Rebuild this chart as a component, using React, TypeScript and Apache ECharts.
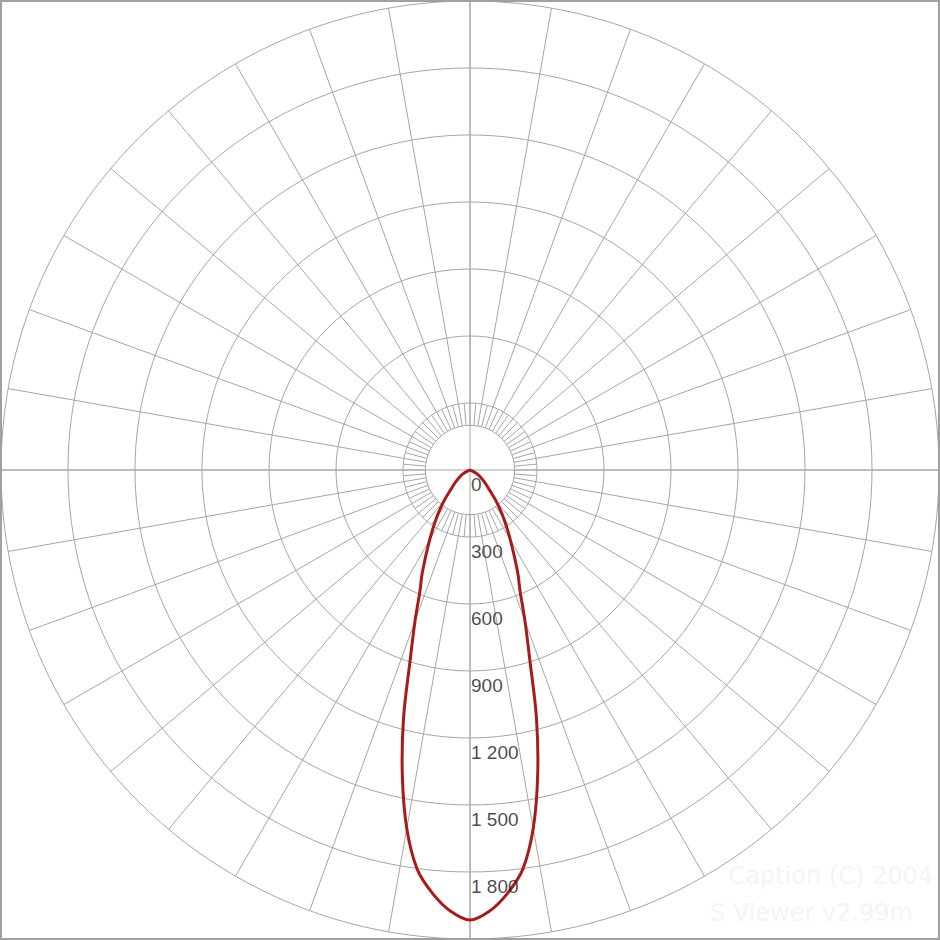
import React, { useEffect, useRef } from "react";
import * as echarts from "echarts";

// Angles from nadir (degrees), symmetric distribution
const angles = [0, 2.5, 5, 7.5, 10, 12.5, 15, 17.5, 20, 22.5, 25, 30, 35, 40, 45, 50, 55, 60, 65, 70, 75, 80, 90];
// Luminous intensity (cd)
const intensity = [2015, 1978, 1905, 1805, 1630, 1400, 1150, 890, 720, 585, 505, 362, 262, 182, 118, 85, 60, 40, 20, 6, 0, 0, 0];

const ringValues = [0, 300, 600, 900, 1200, 1500, 1800];
const ringLabels = ["0", "300", "600", "900", "1 200", "1 500", "1 800"];
const radiusMax = 2100;
const ringStep = 300;
const innerRingValue = 200;
const angleStep = 10;

const watermark = ["Caption (C) 2004", "S Viewer v2.99m"];

export default function App() {
  const ref = useRef<HTMLDivElement>(null);

  useEffect(() => {
    if (!ref.current) return;
    const chart = echarts.init(ref.current, null, { renderer: "svg" });
    const gridColor = "#a6a6a6";

    const curve: number[][] = [];
    for (let i = angles.length - 1; i >= 1; i--) {
      curve.push([intensity[i], 360 - angles[i]]);
    }
    for (let i = 0; i < angles.length; i++) {
      curve.push([intensity[i], angles[i]]);
    }

    chart.setOption({
      animation: false,
      backgroundColor: "#ffffff",
      polar: { center: [470, 470], radius: 469 },
      angleAxis: {
        type: "value",
        min: 0,
        max: 360,
        interval: angleStep,
        startAngle: 270,
        clockwise: true,
        axisLine: { show: false },
        axisTick: { show: false },
        axisLabel: { show: false },
        splitLine: { show: true, lineStyle: { color: gridColor, width: 1 } },
      },
      radiusAxis: {
        type: "value",
        min: 0,
        max: radiusMax,
        interval: ringStep,
        axisLine: { show: false },
        axisTick: { show: false },
        axisLabel: { show: false },
        splitLine: { show: true, lineStyle: { color: gridColor, width: 1 } },
      },
      graphic: [
        {
          type: "rect",
          shape: { x: 1, y: 1, width: 938, height: 938 },
          style: { fill: "none", stroke: "#a0a0a0", lineWidth: 2 },
          z: 100,
          silent: true,
        },
        {
          type: "text",
          right: 7,
          top: 864,
          style: {
            text: watermark[0],
            fill: "#f4f4f4",
            font: "24px 'DejaVu Sans', Verdana, sans-serif",
          },
          z: -1,
          silent: true,
        },
        {
          type: "text",
          right: 27,
          top: 901,
          style: {
            text: watermark[1],
            fill: "#f4f4f4",
            font: "24px 'DejaVu Sans', Verdana, sans-serif",
          },
          z: -1,
          silent: true,
        },
      ],
      series: [
        {
          type: "custom",
          coordinateSystem: "polar",
          silent: true,
          z: 2,
          data: [[0, 0]],
          renderItem: (params: any, api: any) => {
            const c = api.coord([0, 0]);
            const pIn = api.coord([innerRingValue, 0]);
            const rIn = Math.hypot(pIn[0] - c[0], pIn[1] - c[1]);
            const children: any[] = [];
            children.push({
              type: "circle",
              shape: { cx: c[0], cy: c[1], r: rIn },
              style: { fill: "#ffffff", stroke: gridColor, lineWidth: 1 },
            });
            for (let a = angleStep / 2; a < 360; a += angleStep) {
              const p1 = api.coord([innerRingValue, a]);
              const p2 = api.coord([ringStep, a]);
              children.push({
                type: "line",
                shape: { x1: p1[0], y1: p1[1], x2: p2[0], y2: p2[1] },
                style: { stroke: gridColor, lineWidth: 1 },
              });
            }
            for (const a of [0, 90, 180, 270]) {
              const p = api.coord([radiusMax, a]);
              children.push({
                type: "line",
                shape: { x1: c[0], y1: c[1], x2: p[0], y2: p[1] },
                style: { stroke: gridColor, lineWidth: 1 },
              });
            }
            return { type: "group", children };
          },
        },
        {
          type: "custom",
          coordinateSystem: "polar",
          silent: true,
          z: 3,
          data: [[0, 0]],
          renderItem: (params: any, api: any) => {
            const pts = curve.map((d) => api.coord(d));
            return {
              type: "polyline",
              shape: { points: pts, smooth: 0.35 },
              style: { fill: "none", stroke: "#a61c1c", lineWidth: 3, lineJoin: "round" },
            };
          },
        },
        {
          type: "scatter",
          coordinateSystem: "polar",
          symbolSize: 0,
          z: 4,
          silent: true,
          data: ringValues.map((v) => [v, 0]),
          label: {
            show: true,
            position: [1, 5],
            align: "left",
            verticalAlign: "top",
            formatter: (p: any) => ringLabels[p.dataIndex],
            color: "#1a1a1a",
            fontSize: 19,
            fontFamily: "'Liberation Sans', Arial, sans-serif",
          },
        },
      ],
    });

    return () => chart.dispose();
  }, []);

  return (
    <div
      ref={ref}
      style={{ position: "absolute", left: 0, top: 0, width: 940, height: 940 }}
    />
  );
}
